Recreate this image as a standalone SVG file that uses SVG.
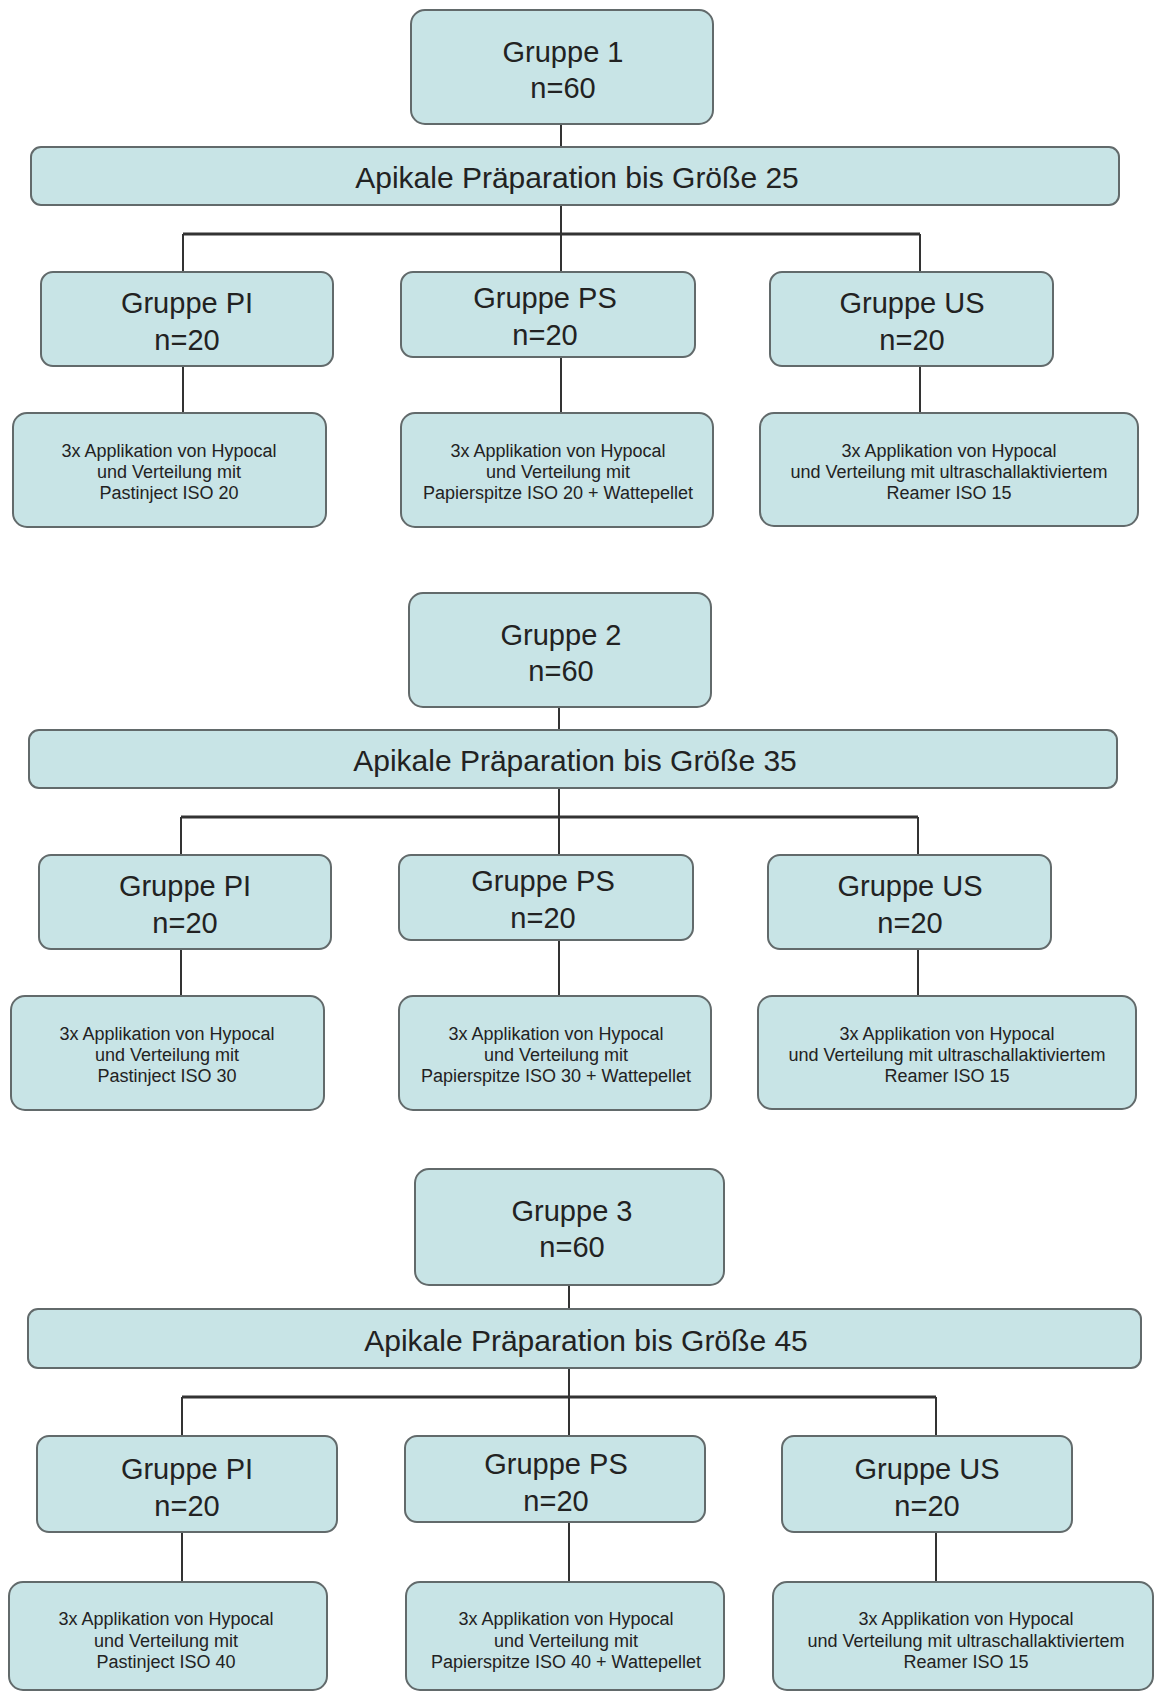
<svg xmlns="http://www.w3.org/2000/svg" width="1155" height="1693" viewBox="0 0 1155 1693">
<style>
.box{fill:#c8e4e6;stroke:#626a6b;stroke-width:2}
.ln{stroke:#333;stroke-width:2;fill:none}
.bar{stroke:#333;stroke-width:3;fill:none}
text{font-family:"Liberation Sans",Arial,sans-serif;fill:#222;text-anchor:middle}
.h{font-size:29px}
.a{font-size:30px}
.d{font-size:18px}
</style>
<rect width="1155" height="1693" fill="#ffffff"/>
<g id="connectors">
<path class="ln" d="M561 124V147M561 205V272M183 234V272M920 234V272M183 366V413M561 357V413M920 366V413"/>
<path class="bar" d="M183 234H920"/>
<path class="ln" d="M559 707V730M559 788V855M181 817V855M918 817V855M181 949V996M559 940V996M918 949V996"/>
<path class="bar" d="M181 817H918"/>
<path class="ln" d="M569 1285V1309M569 1368V1436M182 1397V1436M936 1397V1436M182 1532V1582M569 1522V1582M936 1532V1582"/>
<path class="bar" d="M182 1397H936"/>
</g>
<g id="g1"><rect class="box" x="411" y="10" width="302" height="114" rx="14"/><text class="h" x="563" y="62">Gruppe 1</text><text class="h" x="563" y="98">n=60</text></g>
<g id="ap1"><rect class="box" x="31" y="147" width="1088" height="58" rx="10"/><text class="a" x="577" y="188">Apikale Präparation bis Größe 25</text></g>
<g id="pi1"><rect class="box" x="41" y="272" width="292" height="94" rx="12"/><text class="h" x="187" y="313">Gruppe PI</text><text class="h" x="187" y="350">n=20</text></g>
<g id="ps1"><rect class="box" x="401" y="272" width="294" height="85" rx="12"/><text class="h" x="545" y="308">Gruppe PS</text><text class="h" x="545" y="345">n=20</text></g>
<g id="us1"><rect class="box" x="770" y="272" width="283" height="94" rx="12"/><text class="h" x="912" y="313">Gruppe US</text><text class="h" x="912" y="350">n=20</text></g>
<g id="dpi1"><rect class="box" x="13" y="413" width="313" height="114" rx="14"/><text class="d" x="169" y="457">3x Applikation von Hypocal</text><text class="d" x="169" y="478">und Verteilung mit</text><text class="d" x="169" y="499">Pastinject ISO 20</text></g>
<g id="dps1"><rect class="box" x="401" y="413" width="312" height="114" rx="14"/><text class="d" x="558" y="457">3x Applikation von Hypocal</text><text class="d" x="558" y="478">und Verteilung mit</text><text class="d" x="558" y="499">Papierspitze ISO 20 + Wattepellet</text></g>
<g id="dus1"><rect class="box" x="760" y="413" width="378" height="113" rx="14"/><text class="d" x="949" y="457">3x Applikation von Hypocal</text><text class="d" x="949" y="478">und Verteilung mit ultraschallaktiviertem</text><text class="d" x="949" y="499">Reamer ISO 15</text></g>

<g id="g2"><rect class="box" x="409" y="593" width="302" height="114" rx="14"/><text class="h" x="561" y="645">Gruppe 2</text><text class="h" x="561" y="681">n=60</text></g>
<g id="ap2"><rect class="box" x="29" y="730" width="1088" height="58" rx="10"/><text class="a" x="575" y="771">Apikale Präparation bis Größe 35</text></g>
<g id="pi2"><rect class="box" x="39" y="855" width="292" height="94" rx="12"/><text class="h" x="185" y="896">Gruppe PI</text><text class="h" x="185" y="933">n=20</text></g>
<g id="ps2"><rect class="box" x="399" y="855" width="294" height="85" rx="12"/><text class="h" x="543" y="891">Gruppe PS</text><text class="h" x="543" y="928">n=20</text></g>
<g id="us2"><rect class="box" x="768" y="855" width="283" height="94" rx="12"/><text class="h" x="910" y="896">Gruppe US</text><text class="h" x="910" y="933">n=20</text></g>
<g id="dpi2"><rect class="box" x="11" y="996" width="313" height="114" rx="14"/><text class="d" x="167" y="1040">3x Applikation von Hypocal</text><text class="d" x="167" y="1061">und Verteilung mit</text><text class="d" x="167" y="1082">Pastinject ISO 30</text></g>
<g id="dps2"><rect class="box" x="399" y="996" width="312" height="114" rx="14"/><text class="d" x="556" y="1040">3x Applikation von Hypocal</text><text class="d" x="556" y="1061">und Verteilung mit</text><text class="d" x="556" y="1082">Papierspitze ISO 30 + Wattepellet</text></g>
<g id="dus2"><rect class="box" x="758" y="996" width="378" height="113" rx="14"/><text class="d" x="947" y="1040">3x Applikation von Hypocal</text><text class="d" x="947" y="1061">und Verteilung mit ultraschallaktiviertem</text><text class="d" x="947" y="1082">Reamer ISO 15</text></g>

<g id="g3"><rect class="box" x="415" y="1169" width="309" height="116" rx="14"/><text class="h" x="572" y="1221">Gruppe 3</text><text class="h" x="572" y="1257">n=60</text></g>
<g id="ap3"><rect class="box" x="28" y="1309" width="1113" height="59" rx="10"/><text class="a" x="586" y="1351">Apikale Präparation bis Größe 45</text></g>
<g id="pi3"><rect class="box" x="37" y="1436" width="300" height="96" rx="12"/><text class="h" x="187" y="1479">Gruppe PI</text><text class="h" x="187" y="1516">n=20</text></g>
<g id="ps3"><rect class="box" x="405" y="1436" width="300" height="86" rx="12"/><text class="h" x="556" y="1474">Gruppe PS</text><text class="h" x="556" y="1511">n=20</text></g>
<g id="us3"><rect class="box" x="782" y="1436" width="290" height="96" rx="12"/><text class="h" x="927" y="1479">Gruppe US</text><text class="h" x="927" y="1516">n=20</text></g>
<g id="dpi3"><rect class="box" x="9" y="1582" width="318" height="108" rx="14"/><text class="d" x="166" y="1625">3x Applikation von Hypocal</text><text class="d" x="166" y="1647">und Verteilung mit</text><text class="d" x="166" y="1668">Pastinject ISO 40</text></g>
<g id="dps3"><rect class="box" x="406" y="1582" width="318" height="108" rx="14"/><text class="d" x="566" y="1625">3x Applikation von Hypocal</text><text class="d" x="566" y="1647">und Verteilung mit</text><text class="d" x="566" y="1668">Papierspitze ISO 40 + Wattepellet</text></g>
<g id="dus3"><rect class="box" x="773" y="1582" width="380" height="108" rx="14"/><text class="d" x="966" y="1625">3x Applikation von Hypocal</text><text class="d" x="966" y="1647">und Verteilung mit ultraschallaktiviertem</text><text class="d" x="966" y="1668">Reamer ISO 15</text></g>
</svg>
